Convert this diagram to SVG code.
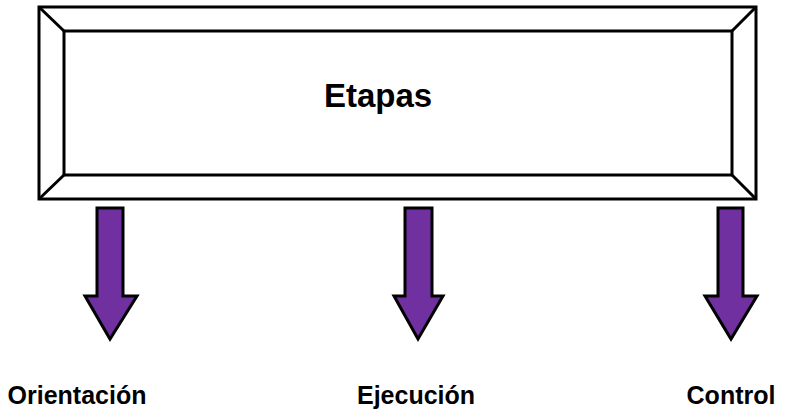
<svg xmlns="http://www.w3.org/2000/svg" width="801" height="413" viewBox="0 0 801 413">
<style>
.frame{fill:#fff;stroke:#000;stroke-width:3}
.ln{fill:none;stroke:#000;stroke-width:3}
.arr{fill:#7030A0;stroke:#000;stroke-width:3;stroke-linejoin:miter}
.t{font-family:"Liberation Sans",Arial,sans-serif;font-weight:bold;fill:#000}
</style>
<rect width="801" height="413" fill="#fff"/>
<g id="etapas">
<rect class="frame" x="39" y="7" width="717" height="192"/>
<rect class="ln" x="64" y="31" width="668" height="144"/>
<path class="ln" d="M39 7L64 31M756 7L732 31M39 199L64 175M756 199L732 175"/>
<text class="t" x="378" y="107" font-size="33" text-anchor="middle">Etapas</text>
</g>
<g id="connectors">
<path class="arr" d="M97 208H123V296H137L110 339L85 296H97Z"/>
<path class="arr" d="M405 208H432V296H443L418 339L394 296H405Z"/>
<path class="arr" d="M718 208H743V296H757L731 339L705 296H718Z"/>
</g>
<g id="orientacion"><text class="t" x="77" y="404" font-size="25" text-anchor="middle">Orientación</text></g>
<g id="ejecucion"><text class="t" x="416" y="404" font-size="25" text-anchor="middle">Ejecución</text></g>
<g id="control"><text class="t" x="731" y="404" font-size="25" text-anchor="middle">Control</text></g>
</svg>
